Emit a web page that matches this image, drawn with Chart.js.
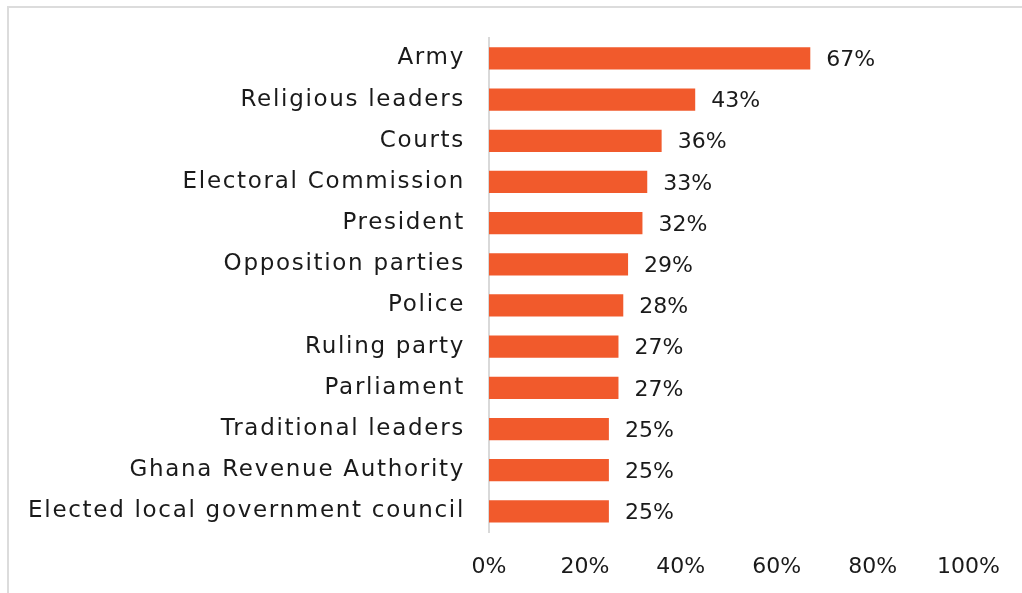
<!DOCTYPE html>
<html>
<head>
<meta charset="utf-8">
<script src="https://cdn.jsdelivr.net/npm/chart.js@4/dist/chart.umd.min.js"></script>
<style>
  html, body { margin: 0; padding: 0; background: #fff; }
  #frame {
    position: absolute; left: 7px; top: 6px; width: 1100px; height: 700px;
    border-top: 2px solid #dcdcdc; border-left: 2px solid #dcdcdc;
  }
  #wrap { position: absolute; left: 0; top: 0; width: 1022px; height: 593px; }
</style>
</head>
<body>
<div id="frame"></div>
<div id="wrap"><canvas id="chart"></canvas></div>
<script>
const institutions = [
    'Army',
    'Religious leaders',
    'Courts',
    'Electoral Commission',
    'President',
    'Opposition parties',
    'Police',
    'Ruling party',
    'Parliament',
    'Traditional leaders',
    'Ghana Revenue Authority',
    'Elected local government council'
];
const trustShare = [67, 43, 36, 33, 32, 29, 28, 27, 27, 25, 25, 25];
const xTicks = [0, 20, 40, 60, 80, 100];

const FONT = "'DejaVu Sans', sans-serif";
const TEXT = '#1a1a1a';

// category names get wide spacing, numbers stay tight
// (x tick labels sit on layer z=1, so they are drawn after the datasets)
const spacing = {
    id: 'spacing',
    beforeDraw(chart) { chart.ctx.letterSpacing = '1.7px'; },
    afterDatasetsDraw(chart) { chart.ctx.letterSpacing = '0px'; },
    afterDraw(chart) { chart.ctx.letterSpacing = '0px'; }
};

// writes the percentage just past the end of each bar
const valueLabels = {
    id: 'valueLabels',
    afterDatasetsDraw(chart) {
        const ctx = chart.ctx;
        const meta = chart.getDatasetMeta(0);
        ctx.save();
        ctx.letterSpacing = '0px';
        ctx.font = '22px ' + FONT;
        ctx.fillStyle = TEXT;
        ctx.textAlign = 'left';
        ctx.textBaseline = 'middle';
        meta.data.forEach((bar, i) => {
            ctx.fillText(trustShare[i] + '%', bar.x + 16, bar.y + 2);
        });
        ctx.restore();
    }
};

const ctx = document.getElementById('chart').getContext('2d');
window.chart = new Chart(ctx, {
    type: 'bar',
    data: {
        labels: institutions,
        datasets: [{
            data: trustShare,
            backgroundColor: '#F15A2C',
            borderWidth: 0,
            categoryPercentage: 1,
            barPercentage: 0.54
        }]
    },
    options: {
        indexAxis: 'y',
        responsive: true,
        maintainAspectRatio: false,
        animation: false,
        layout: { padding: { top: 36, right: 48, bottom: 0, left: 0 } },
        plugins: {
            legend: { display: false },
            tooltip: { enabled: false }
        },
        scales: {
            x: {
                min: 0,
                max: 100,
                afterBuildTicks: axis => { axis.ticks = xTicks.map(v => ({ value: v })); },
                afterFit: axis => { axis.height = 61; },
                grid: { display: false, drawTicks: false },
                border: { display: false },
                ticks: {
                    z: 1,
                    padding: 22,
                    color: TEXT,
                    font: { family: FONT, size: 22 },
                    callback: v => v + '%'
                }
            },
            y: {
                afterFit: axis => { axis.width = 489; },
                grid: { display: false, drawTicks: false },
                border: { display: true, color: '#d9d9d9', width: 2 },
                ticks: {
                    padding: 24,
                    color: TEXT,
                    font: { family: FONT, size: 23 }
                }
            }
        }
    },
    plugins: [spacing, valueLabels]
});
</script>
</body>
</html>
